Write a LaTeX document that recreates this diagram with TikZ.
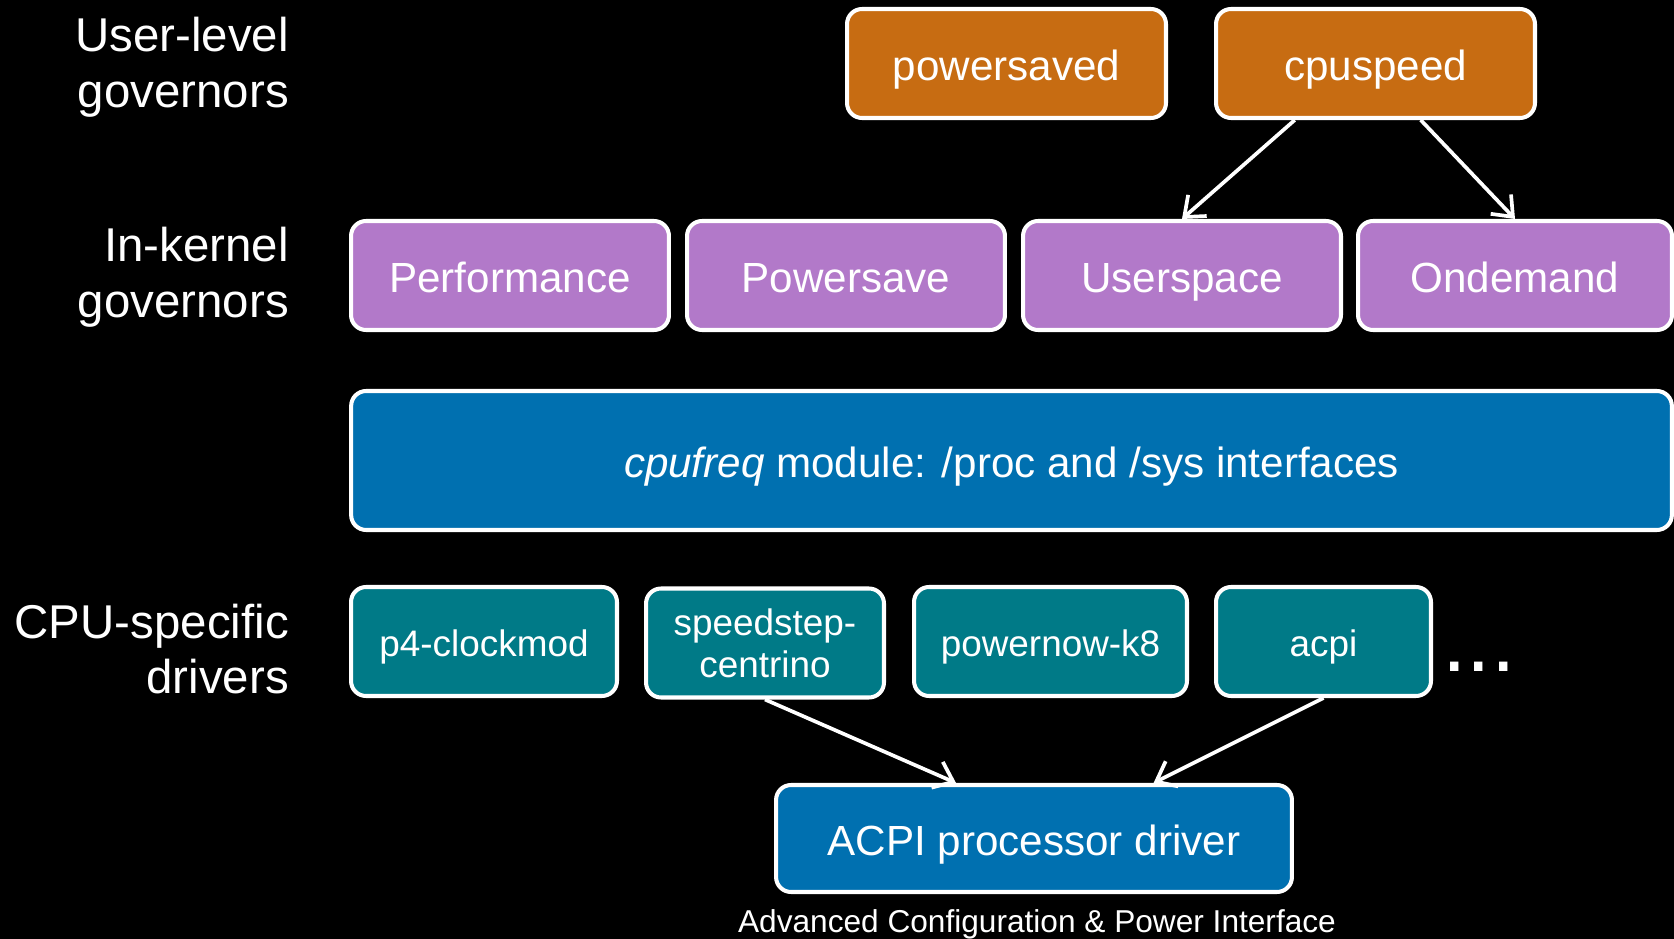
\documentclass[tikz,border=0pt]{standalone}
\usepackage{fontspec}
\setmainfont{Liberation Sans}
\usetikzlibrary{arrows.meta,calc}

\definecolor{govorange}{RGB}{199,108,18}
\definecolor{govpurple}{RGB}{178,121,201}
\definecolor{modblue}{RGB}{0,112,176}
\definecolor{drvteal}{RGB}{0,122,135}

\tikzset{
  box/.style={rectangle,rounded corners=0.3cm,draw=white,line width=2.3pt,
    text=white,inner sep=0pt,align=center,minimum height=2.18cm,
    text height=19.3pt,text depth=0pt,
    font=\fontsize{24pt}{28pt}\selectfont},
  drvbox/.style={box,fill=drvteal,text height=17.2pt,
    font=\fontsize{21pt}{23.8pt}\selectfont},
  layer/.style={anchor=east,align=right,text=white,
    font=\fontsize{27pt}{31.7pt}\selectfont},
  conn/.style={draw=white,line width=2.1pt,-{Straight Barb[length=10pt,width=16pt]}}
}

\begin{document}
\begin{tikzpicture}[x=0.02cm,y=-0.02cm]
      \clip (0,0) rectangle (1674,939);
      \fill [black] (0,0) rectangle (1674,939);

      % layer names
      \node [layer] (ulev) at (295,67)  {User-level\\governors};
      \node [layer] (klev) at (295,277) {In-kernel\\governors};
      \node [layer] (dlev) at (295,649) {CPU-specific\\drivers};

      \node [box,fill=govorange,minimum width=6.38cm] (powersaved) at (1006.5,63.5) {powersaved};
      \node [box,fill=govorange,minimum width=6.38cm] (cpuspeed) at (1375.5,63.5) {cpuspeed};

      \node [box,fill=govpurple,minimum width=6.36cm] (performance) at (510,275.5) {Performance};
      \node [box,fill=govpurple,minimum width=6.36cm] (powersave) at (846,275.5) {Powersave};
      \node [box,fill=govpurple,minimum width=6.36cm] (userspace) at (1182,275.5) {Userspace};
      \node [box,fill=govpurple,minimum width=6.28cm] (ondemand) at (1515,275.5) {Ondemand};

      \node [box,fill=modblue,minimum width=26.42cm,minimum height=2.78cm] (cpufreq) at (1011.5,460.5)
        {\textit{cpufreq} module: /proc and /sys interfaces};

      \node [drvbox,minimum width=5.32cm] (p4) at (484,641.5) {p4-clockmod};
      \node [drvbox,minimum width=4.76cm,text height={},text depth={}] (speedstep) at (765,643)
        {speedstep-\\centrino};
      \node [drvbox,minimum width=5.46cm] (powernow) at (1050.5,641.5) {powernow-k8};
      \node [drvbox,minimum width=4.3cm] (acpi) at (1323.5,641.5) {acpi};
      \node [anchor=base west,text=white,inner sep=0pt,font=\fontsize{50pt}{50pt}\selectfont]
        (more) at (1442,671) {...};

      \node [box,fill=modblue,minimum width=10.32cm,minimum height=2.14cm] (acpidrv) at (1034,838.5)
        {ACPI processor driver};
      \node [text=white,font=\fontsize{18pt}{20pt}\selectfont] (acpiname) at (1037,924)
        {Advanced Configuration \& Power Interface};

      \draw [conn] ($(cpuspeed.south west)!0.25!(cpuspeed.south east)$) -- (userspace.north);
      \draw [conn] ($(cpuspeed.south west)!0.64!(cpuspeed.south east)$) -- (ondemand.north);
      \draw [conn] (speedstep.south) -- ($(acpidrv.north west)!0.35!(acpidrv.north east)$);
      \draw [conn] (acpi.south) -- ($(acpidrv.north west)!0.73!(acpidrv.north east)$);
    \end{tikzpicture}
\end{document}
